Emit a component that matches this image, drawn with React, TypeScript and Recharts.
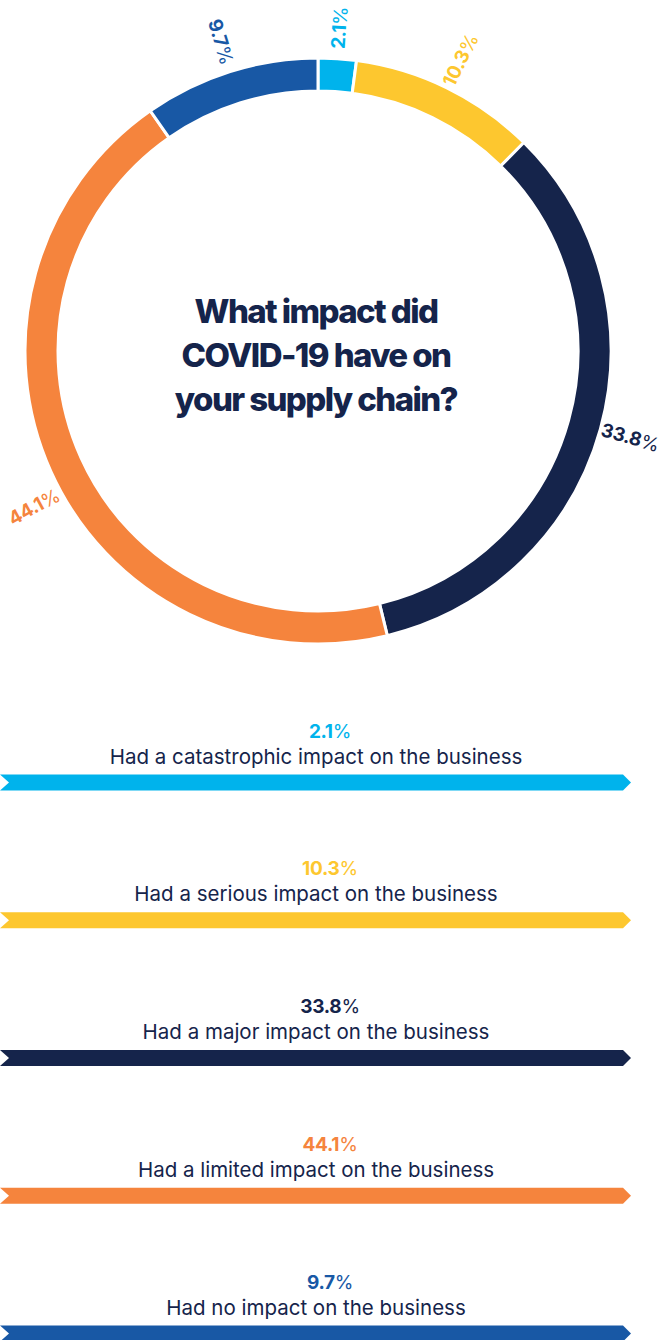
import { Cell, Label, Legend, Pie, PieChart } from "recharts"

const categories = [
  "Had a catastrophic impact on the business",
  "Had a serious impact on the business",
  "Had a major impact on the business",
  "Had a limited impact on the business",
  "Had no impact on the business",
]
const shares = [2.1, 10.3, 33.8, 44.1, 9.7]
const colors = ["#00b3ec", "#fdc72f", "#15244b", "#f5843d", "#1858a5"]
const titleLines = ["What impact did", "COVID-19 have on", "your supply chain?"]

const data = categories.map((name, i) => ({ name, value: shares[i] }))

const W = 663
const H = 1340
const CX = 318
const CY = 351
const NAVY = "#15244b"
const FONT = "Inter, 'Noto Sans', sans-serif"
const RAD = Math.PI / 180
const EDGE = 34

// radial labels around the ring, flipped on the left half so they stay readable
function renderRingLabel(props: any) {
  const { cx, cy, midAngle, outerRadius, index } = props
  const r = outerRadius + 31
  let a = midAngle
  // slide a label along the arc if it would run off the page edge
  const minCos = (EDGE - cx) / r
  if (Math.cos(a * RAD) < minCos) {
    const base = Math.acos(minCos) / RAD
    a = Math.sin(a * RAD) < 0 ? 360 - base : base
  }
  const x = cx + r * Math.cos(-a * RAD)
  const y = cy + r * Math.sin(-a * RAD)
  let rot = -a
  if (Math.cos(a * RAD) < 0) rot += 180
  return (
    <text
      x={x}
      y={y}
      transform={`rotate(${rot} ${x} ${y})`}
      textAnchor="middle"
      dominantBaseline="central"
      fill={colors[index]}
      fontFamily={FONT}
      fontSize={19}
      fontWeight={700}
      letterSpacing={-0.3}
    >
      {shares[index].toFixed(1)}
      <tspan fontWeight={400}>%</tspan>
    </text>
  )
}

function CenterTitle() {
  return (
    <text textAnchor="middle" fill={NAVY} fontFamily={FONT} fontSize={33} fontWeight={800} letterSpacing={-1.6}>
      {titleLines.map((line, i) => (
        <tspan key={line} x={CX - 2} y={CY - 28 + i * 44}>
          {line}
        </tspan>
      ))}
    </text>
  )
}

const LEGEND_TOP = 700
const STEP = 137.75

function ArrowLegend() {
  return (
    <svg width={W} height={H - LEGEND_TOP} style={{ display: "block" }}>
      {categories.map((name, i) => {
        const barY = 74.5 + i * STEP
        const h = 16
        const pts = [
          [0, barY],
          [623, barY],
          [631, barY + h / 2],
          [623, barY + h],
          [0, barY + h],
          [9, barY + h / 2],
        ]
          .map((p) => p.join(","))
          .join(" ")
        return (
          <g key={name}>
            <text x={330} y={barY - 37} textAnchor="middle" fill={colors[i]} fontFamily={FONT} fontSize={19} fontWeight={700} letterSpacing={-0.3}>
              {shares[i].toFixed(1)}
              <tspan fontWeight={400}>%</tspan>
            </text>
            <text x={316} y={barY - 11} textAnchor="middle" fill={NAVY} fontFamily={FONT} fontSize={20.5}>
              {name}
            </text>
            <polygon points={pts} fill={colors[i]} />
          </g>
        )
      })}
    </svg>
  )
}

export default function App() {
  return (
    <div style={{ position: "absolute", left: 0, top: 0, background: "#fff" }}>
      <PieChart width={W} height={H} margin={{ top: 0, right: 0, bottom: 0, left: 0 }}>
        <Pie
          data={data}
          dataKey="value"
          nameKey="name"
          cx={CX}
          cy={CY}
          innerRadius={260}
          outerRadius={293}
          startAngle={90}
          endAngle={-270}
          stroke="#fff"
          strokeWidth={3}
          label={renderRingLabel}
          labelLine={false}
          isAnimationActive={false}
        >
          {data.map((d, i) => (
            <Cell key={d.name} fill={colors[i]} />
          ))}
          <Label position="center" content={CenterTitle} />
        </Pie>
        <Legend
          content={ArrowLegend}
          wrapperStyle={{ position: "absolute", left: 0, top: LEGEND_TOP, width: W, height: H - LEGEND_TOP }}
        />
      </PieChart>
    </div>
  )
}
